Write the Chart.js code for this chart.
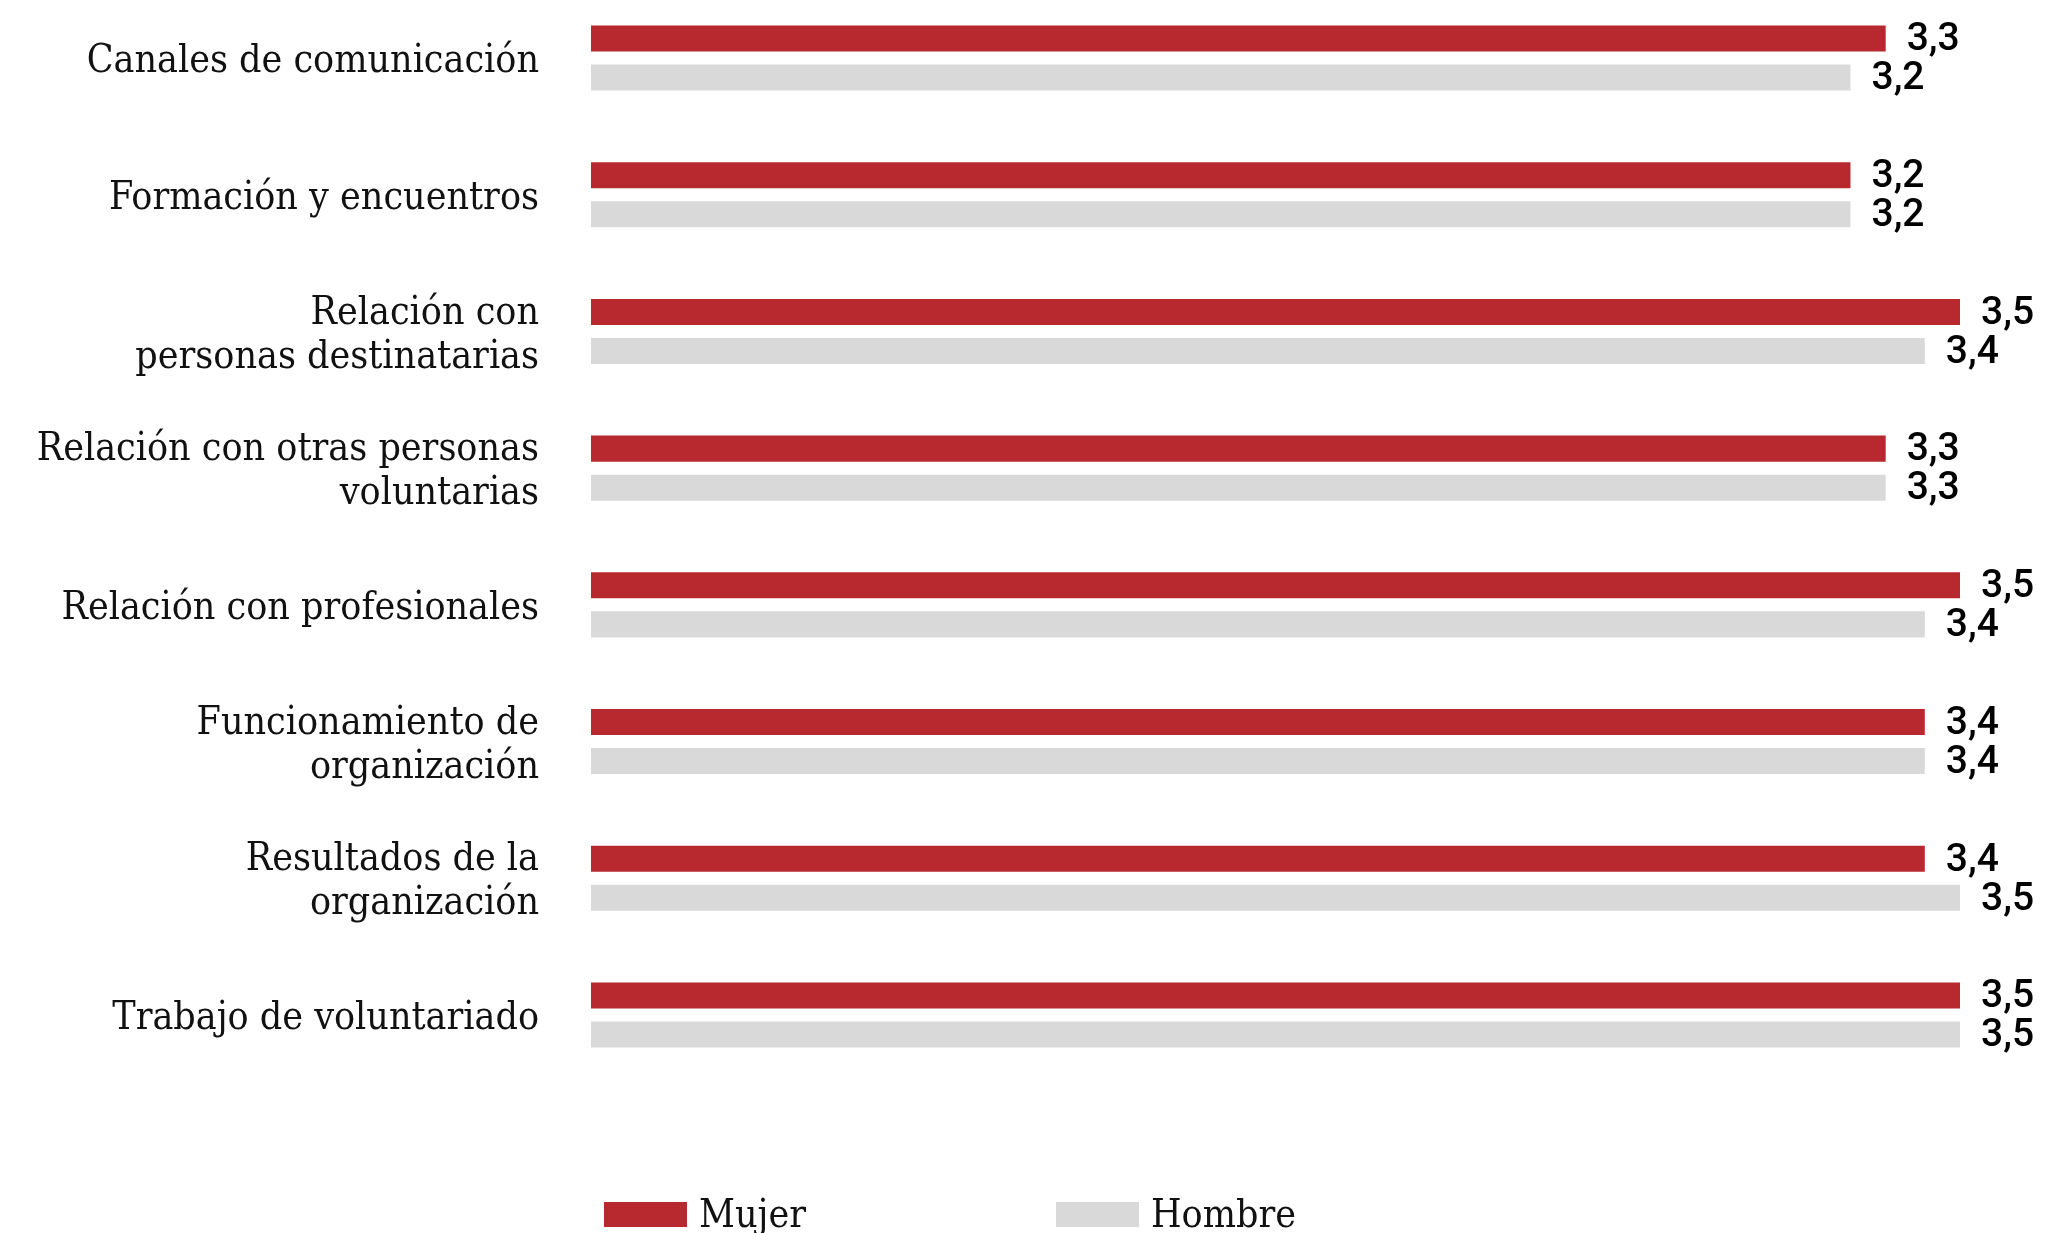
<!DOCTYPE html>
<html>
<head>
<meta charset="utf-8">
<script src="https://cdn.jsdelivr.net/npm/chart.js@4.4.1/dist/chart.umd.min.js"></script>
<style>
  html, body { margin: 0; padding: 0; background: #fff; }
  #wrap { position: relative; width: 2045px; height: 1233px; overflow: hidden; }
  #chart { position: absolute; left: 0; top: 0; }
  .legend-item { position: absolute; top: 1194px; display: flex; align-items: flex-start;
    font-family: 'DejaVu Serif Condensed', 'DejaVu Serif', serif; font-size: 39px; line-height: 1; color: #111; }
  .legend-item span.box { display: inline-block; width: 83px; height: 25px; margin-top: 8px; margin-right: 12px; }
</style>
</head>
<body>
<div id="wrap">
  <canvas id="chart" width="2045" height="1233"></canvas>
  <div class="legend-item" style="left:604px"><span class="box" id="box0"></span><span id="lab0"></span></div>
  <div class="legend-item" style="left:1056px"><span class="box" id="box1"></span><span id="lab1"></span></div>
</div>
<script>
const categories = [
  'Canales de comunicación',
  'Formación y encuentros',
  ['Relación con', 'personas destinatarias'],
  ['Relación con otras personas', 'voluntarias'],
  'Relación con profesionales',
  ['Funcionamiento de', 'organización'],
  ['Resultados de la', 'organización'],
  'Trabajo de voluntariado'
]
const seriesNames = ['Mujer', 'Hombre']
const mujer = [3.31, 3.22, 3.50, 3.31, 3.50, 3.41, 3.41, 3.50]
const hombre = [3.22, 3.22, 3.41, 3.31, 3.41, 3.41, 3.50, 3.50]
const colors = ['#b7282f', '#d9d9d9']

const serif = "'DejaVu Serif Condensed', 'DejaVu Serif', serif"

// labels with comma decimals at the end of each bar
const valueLabels = {
  id: 'valueLabels',
  afterDatasetsDraw(chart) {
    const ctx = chart.ctx
    ctx.save()
    ctx.font = '500 39px Roboto'
    ctx.fillStyle = '#000'
    ctx.textAlign = 'left'
    ctx.textBaseline = 'middle'
    chart.data.datasets.forEach((ds, i) => {
      chart.getDatasetMeta(i).data.forEach((bar, j) => {
        ctx.fillText(ds.data[j].toFixed(1).replace('.', ','), bar.x + 21, bar.y + 2)
      })
    })
    ctx.restore()
  }
}

new Chart(document.getElementById('chart'), {
  type: 'bar',
  data: {
    labels: categories,
    datasets: [
      { label: seriesNames[0], data: mujer, backgroundColor: colors[0],
        categoryPercentage: 0.571, barPercentage: 0.667, clip: false },
      { label: seriesNames[1], data: hombre, backgroundColor: colors[1],
        categoryPercentage: 0.571, barPercentage: 0.667, clip: false }
    ]
  },
  options: {
    indexAxis: 'y',
    responsive: false,
    animation: false,
    layout: { padding: { top: 58, bottom: 218, left: 0, right: 85 } },
    plugins: {
      legend: { display: false },
      tooltip: { enabled: false }
    },
    scales: {
      x: { display: false, min: 0, max: 3.5 },
      y: {
        offset: false,
        // tick marks are hidden but their length spaces the labels off the bars
        grid: { display: false, drawTicks: true, tickLength: 52 },
        border: { display: false },
        ticks: {
          padding: 0,
          labelOffset: 4,
          color: '#111',
          font: { family: serif, size: 39, lineHeight: 1.13 }
        },
        afterFit(scale) { scale.width = 591 }
      }
    }
  },
  plugins: [valueLabels]
})

seriesNames.forEach((name, i) => {
  document.getElementById('box' + i).style.background = colors[i]
  document.getElementById('lab' + i).textContent = name
})
</script>
</body>
</html>
